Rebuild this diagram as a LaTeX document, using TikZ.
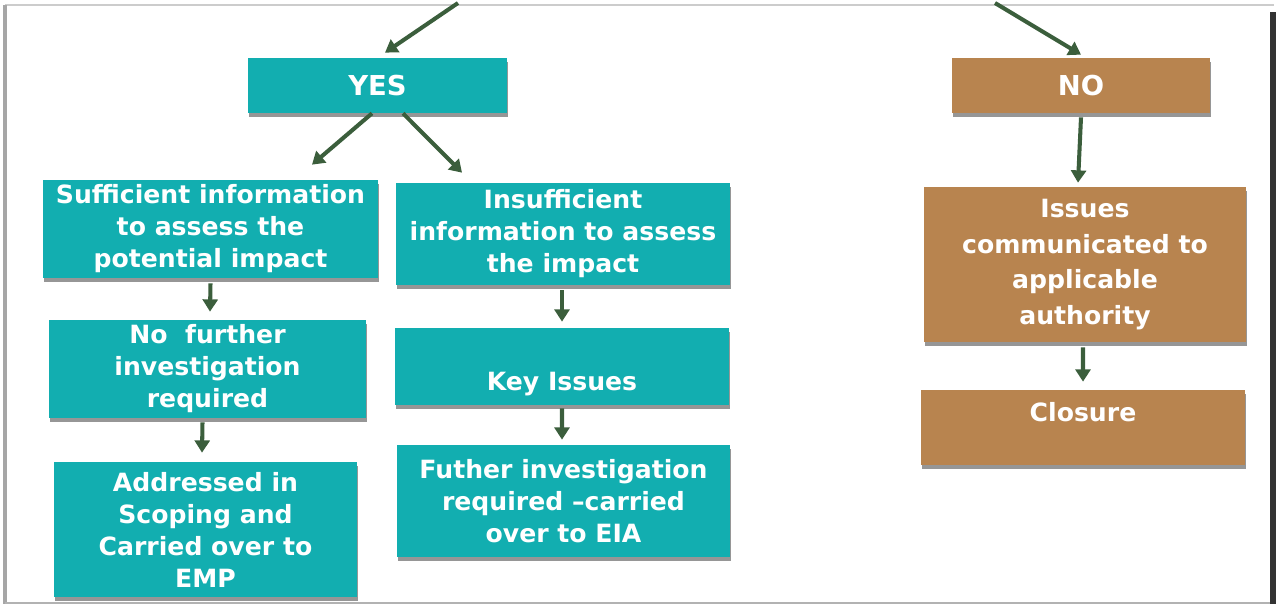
\documentclass[tikz,border=0pt]{standalone}
\usepackage{fontspec}
\setmainfont{DejaVu Sans}
\usetikzlibrary{positioning,arrows.meta,shadows}

\definecolor{boxteal}{HTML}{12AEB0}
\definecolor{boxbrown}{HTML}{B8844F}
\definecolor{arrowgreen}{HTML}{3B5E3C}

\tikzset{
  box/.style={text=white, align=center, inner sep=0pt,
    font=\bfseries\fontsize{14.3}{18.2}\selectfont,
    drop shadow={shadow xshift=0.6pt, shadow yshift=-2.2pt, opacity=0.55, fill=black!75}},
  yesbox/.style={box, fill=boxteal},
  nobox/.style={box, fill=boxbrown},
  answer/.style={font=\bfseries\fontsize{15.6}{18.2}\selectfont, minimum height=1.1cm},
  flow/.style={draw=arrowgreen, line width=2.3pt, -{Triangle[length=7pt,width=8.5pt]}},
}

\begin{document}
\begin{tikzpicture}[x=0.02cm, y=-0.02cm]
    \useasboundingbox (0,0) rectangle (1280,609);
    % frame
    \draw[black!20, line width=1pt] (5,5) -- (1274,5);
    \draw[black!35, line width=2.2pt] (5,5) -- (5,604);
    \draw[black!30, line width=1.2pt] (5,603) -- (1274,603);
    \draw[black!80, line width=3.8pt] (1273,12) -- (1273,604);

    \node (YES) [yesbox, answer, minimum width=5.18cm] at (377.5,85.5) {YES};
    \node (NO) [nobox, answer, minimum width=5.16cm] at (1081,85.5) {NO};

    \node (Sufficient) [yesbox, minimum width=6.7cm, minimum height=1.96cm] at (210.5,229)
      {Sufficient information\\to assess the\\potential impact};
    \node (Insufficient) [yesbox, minimum width=6.68cm, minimum height=2.04cm] at (563,234)
      {Insufficient\\information to assess\\the impact};
    \node (further) [yesbox, minimum width=6.34cm, minimum height=1.96cm] at (207.5,369)
      {No\ \ further\\investigation\\required};
    \node (Key) [yesbox, minimum width=6.68cm, text height=1.24cm, text depth=0.3cm] at (562,366.5)
      {Key Issues};
    \node (Addressed) [yesbox, minimum width=6.06cm, minimum height=2.7cm] at (205.5,529.5)
      {Addressed in\\Scoping and\\Carried over to\\EMP};
    \node (Futher) [yesbox, minimum width=6.66cm, minimum height=2.24cm] at (563.5,501)
      {Futher investigation\\required --carried\\over to EIA};
    \node (Issues) [nobox, minimum width=6.44cm, minimum height=3.1cm,
      font=\bfseries\fontsize{14.3}{20.4}\selectfont] at (1085,264.5)
      {Issues\\communicated to\\applicable\\authority};
    \node (Closure) [nobox, minimum width=6.48cm, text height=0.62cm, text depth=0.88cm] at (1083,427.5)
      {Closure};

    \coordinate (fromYES) at (458,3);
    \coordinate (fromNO) at (995,3);

    \draw[flow] (fromYES) -- ([xshift=0.15cm,yshift=0.1cm]YES.north);
    \draw[flow] (fromNO) -- ([yshift=0.06cm]NO.north);
    \draw[flow] ([xshift=-0.11cm]YES.south) -- ([xshift=2.03cm,yshift=0.3cm]Sufficient.north);
    \draw[flow] ([xshift=0.51cm]YES.south) -- ([xshift=-2.02cm,yshift=0.2cm]Insufficient.north);
    \draw[flow] ([yshift=-0.08cm]NO.south) -- ([xshift=-0.14cm,yshift=0.08cm]Issues.north);
    \draw[flow] ([xshift=-0.04cm,yshift=-0.1cm]Issues.south) -- ([yshift=0.16cm]Closure.north);
    \draw[flow] ([yshift=-0.1cm]Sufficient.south) -- ([xshift=0.05cm,yshift=0.16cm]further.north);
    \draw[flow] ([xshift=-0.1cm,yshift=-0.08cm]further.south) -- ([xshift=-0.07cm,yshift=0.18cm]Addressed.north);
    \draw[flow] ([xshift=-0.02cm,yshift=-0.1cm]Insufficient.south) -- ([yshift=0.12cm]Key.north);
    \draw[flow] ([yshift=-0.06cm]Key.south) -- ([xshift=-0.03cm,yshift=0.1cm]Futher.north);
\end{tikzpicture}
\end{document}
